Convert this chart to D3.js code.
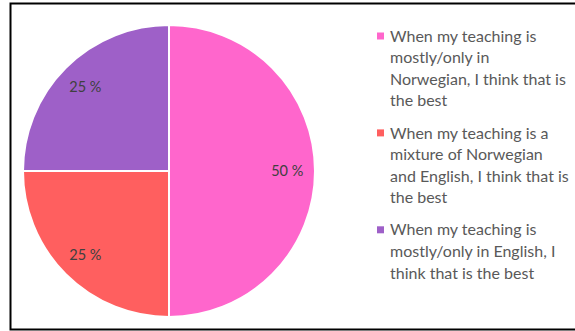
<!DOCTYPE html>
<html>
<head>
<meta charset="utf-8">
<script src="https://cdn.jsdelivr.net/npm/d3@7"></script>
<style>
  html, body { margin: 0; padding: 0; background: #fff; }
  svg { display: block; }
</style>
</head>
<body>
<svg id="chart" width="575" height="331"></svg>
<script>
// Survey answers: which language of instruction the respondents prefer
const categories = [
  "When my teaching is mostly/only in Norwegian, I think that is the best",
  "When my teaching is a mixture of Norwegian and English, I think that is the best",
  "When my teaching is mostly/only in English, I think that is the best"
];
const shares = [50, 25, 25];
const sliceColors = ["#FF66CC", "#FF5F5F", "#9E60C8"];

const svg = d3.select("#chart");
const W = 575, H = 331;

// frame
svg.append("path")
  .attr("d", `M${W},3.5 H10.5 V329.5 H${W}`)
  .attr("fill", "none")
  .attr("stroke", "#000")
  .attr("stroke-width", 2);

const cx = 169, cy = 171, r = 146;
const pie = d3.pie().sort(null).value(d => d);
const arcs = pie(shares);
const arc = d3.arc().innerRadius(0).outerRadius(r);
const labelArc = d3.arc().innerRadius(r * 0.81).outerRadius(r * 0.81);

const g = svg.append("g").attr("transform", `translate(${cx},${cy})`);
g.selectAll("path.slice")
  .data(arcs)
  .join("path")
  .attr("class", "slice")
  .attr("d", arc)
  .attr("fill", (d, i) => sliceColors[i])
  .attr("stroke", "#fff")
  .attr("stroke-width", 2);

g.selectAll("text.pct")
  .data(arcs)
  .join("text")
  .attr("class", "pct")
  .attr("transform", d => `translate(${labelArc.centroid(d)})`)
  .attr("text-anchor", "middle")
  .attr("dy", "0.35em")
  .attr("font-family", "Lato, 'Open Sans', sans-serif")
  .attr("font-size", 14.5)
  .attr("fill", "#404040")
  .text(d => `${d.data} %`);

// legend
const legend = svg.append("g").attr("font-family", "Lato, 'Open Sans', sans-serif")
  .attr("font-size", 16).attr("fill", "#595959");
const lineH = 21.6;
const maxW = 182;
let y = 36;
categories.forEach((label, i) => {
  legend.append("rect")
    .attr("x", 377).attr("y", y - 3.5)
    .attr("width", 7).attr("height", 7)
    .attr("fill", sliceColors[i]);
  const t = legend.append("text");
  const words = label.split(" ");
  let line = [];
  let tspan = t.append("tspan").attr("x", 390).attr("y", y).attr("dy", "0.35em");
  let n = 0;
  words.forEach(w => {
    line.push(w);
    tspan.text(line.join(" "));
    if (tspan.node().getComputedTextLength() > maxW && line.length > 1) {
      line.pop();
      tspan.text(line.join(" "));
      line = [w];
      n++;
      tspan = t.append("tspan").attr("x", 390).attr("y", y + n * lineH).attr("dy", "0.35em").text(w);
    }
  });
  y += (n + 1) * lineH + 10.5;
});
</script>
</body>
</html>
